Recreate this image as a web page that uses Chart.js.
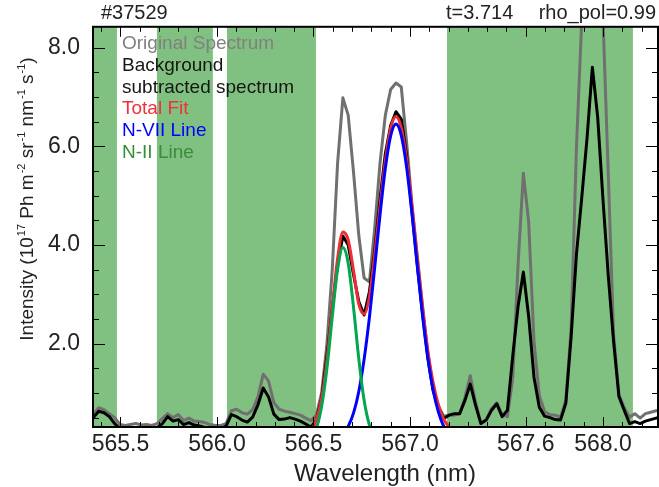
<!DOCTYPE html>
<html>
<head>
<meta charset="utf-8">
<script src="https://cdn.jsdelivr.net/npm/chart.js@4.4.1/dist/chart.umd.min.js"></script>
<style>
  html, body { margin: 0; padding: 0; background: #fff; }
  canvas { display: block; }
</style>
</head>
<body>
<canvas id="spectrum" width="659" height="487"></canvas>
<script>
// measured spectrum, shot #37529
var wavelength = [
  565.3600, 565.3875, 565.4150, 565.4425, 565.4700, 565.4975, 565.5250, 565.5525, 565.5800, 565.6075,
  565.6350, 565.6625, 565.6900, 565.7175, 565.7450, 565.7725, 565.8000, 565.8275, 565.8550, 565.8825,
  565.9100, 565.9375, 565.9650, 565.9925, 566.0200, 566.0475, 566.0750, 566.1025, 566.1300, 566.1575,
  566.1850, 566.2125, 566.2400, 566.2675, 566.2950, 566.3225, 566.3500, 566.3775, 566.4050, 566.4325,
  566.4600, 566.4875, 566.5150, 566.5425, 566.5700, 566.5975, 566.6250, 566.6525, 566.6800, 566.7075,
  566.7350, 566.7625, 566.7900, 566.8175, 566.8450, 566.8725, 566.9000, 566.9275, 566.9550, 566.9825,
  567.0100, 567.0375, 567.0650, 567.0925, 567.1200, 567.1475, 567.1750, 567.2025, 567.2300, 567.2575,
  567.2850, 567.3125, 567.3400, 567.3675, 567.3950, 567.4225, 567.4500, 567.4775, 567.5050, 567.5325,
  567.5600, 567.5875, 567.6150, 567.6425, 567.6700, 567.6975, 567.7250, 567.7525, 567.7800, 567.8075,
  567.8350, 567.8625, 567.8900, 567.9175, 567.9450, 567.9725, 568.0000, 568.0275, 568.0550, 568.0825,
  568.1100, 568.1375, 568.1650, 568.1925, 568.2200, 568.2475, 568.2750, 568.3025
];

var original = [
  0.57, 0.70, 0.66, 0.58, 0.50, 0.36, 0.34, 0.36, 0.38, 0.35,
  0.36, 0.34, 0.38, 0.48, 0.58, 0.50, 0.56, 0.44, 0.49, 0.43,
  0.42, 0.40, 0.36, 0.34, 0.34, 0.38, 0.64, 0.67, 0.60, 0.57,
  0.66, 0.92, 1.38, 1.24, 0.80, 0.67, 0.63, 0.61, 0.58, 0.55,
  0.49, 0.44, 0.55, 1.00, 2.00, 3.50, 5.65, 6.98, 6.63, 5.48,
  4.19, 3.33, 3.25, 4.34, 5.66, 6.63, 7.15, 7.28, 7.20, 6.09,
  4.84, 3.80, 2.78, 1.80, 1.10, 0.73, 0.53, 0.55, 0.55, 0.58,
  0.91, 1.35, 0.81, 0.38, 0.46, 0.68, 0.80, 0.56, 0.52, 1.30,
  3.60, 5.45, 4.47, 2.05, 0.95, 0.62, 0.56, 0.55, 0.51, 0.85,
  2.32, 5.97, 8.55, 9.40, 9.70, 9.50, 8.60, 5.42, 2.18, 0.97,
  0.70, 0.51, 0.58, 0.49, 0.58, 0.61, 0.64, 0.65
];

var subtracted = [
  0.50, 0.63, 0.60, 0.52, 0.38, 0.28, 0.27, 0.29, 0.28, 0.26,
  0.28, 0.27, 0.29, 0.38, 0.52, 0.43, 0.46, 0.36, 0.40, 0.35,
  0.33, 0.30, 0.28, 0.26, 0.27, 0.33, 0.56, 0.52, 0.45, 0.41,
  0.51, 0.76, 1.10, 0.92, 0.57, 0.46, 0.47, 0.50, 0.47, 0.43,
  0.37, 0.31, 0.45, 0.90, 1.75, 2.70, 3.60, 4.18, 4.00, 3.40,
  2.85, 2.58, 3.05, 3.90, 4.95, 5.85, 6.42, 6.70, 6.55, 5.82,
  4.70, 3.62, 2.62, 1.72, 1.05, 0.70, 0.48, 0.55, 0.58, 0.58,
  0.85, 1.18, 0.75, 0.38, 0.45, 0.65, 0.78, 0.52, 0.65, 1.75,
  2.75, 3.45, 2.55, 1.32, 0.71, 0.53, 0.50, 0.46, 0.45, 0.79,
  2.14, 3.81, 4.96, 6.17, 7.60, 6.59, 4.92, 3.37, 2.04, 0.93,
  0.65, 0.38, 0.42, 0.38, 0.43, 0.46, 0.49, 0.49
];

// fitted lines, only evaluated around the N-II / N-VII pair
var fitWavelength = [
  566.4600, 566.4875, 566.5150, 566.5425, 566.5700, 566.5975, 566.6250, 566.6525, 566.6800, 566.7075,
  566.7350, 566.7625, 566.7900, 566.8175, 566.8450, 566.8725, 566.9000, 566.9275, 566.9550, 566.9825,
  567.0100, 567.0375, 567.0650, 567.0925, 567.1200, 567.1475, 567.1750, 567.2025, 567.2300
];
var totalFit = [
  0.17, 0.24, 0.45, 0.89, 1.66, 2.72, 3.72, 4.26, 4.10, 3.48,
  2.80, 2.60, 2.95, 3.81, 4.79, 5.70, 6.36, 6.60, 6.37, 5.73,
  4.80, 3.74, 2.73, 1.86, 1.21, 0.76, 0.47, 0.31, 0.22
];
var nviiLine = [
  0.00, 0.00, 0.00, 0.00, 0.01, 0.03, 0.07, 0.16, 0.32, 0.59,
  1.03, 1.68, 2.53, 3.55, 4.61, 5.55, 6.21, 6.45, 6.22, 5.58,
  4.65, 3.59, 2.58, 1.71, 1.06, 0.61, 0.32, 0.16, 0.07
];
var niiLine = [
  0.02, 0.09, 0.28, 0.73, 1.50, 2.54, 3.50, 3.95, 3.63, 2.74,
  1.69, 0.85, 0.35, 0.11, 0.03, 0.01, 0.00, 0.00, 0.00, 0.00,
  0.00, 0.00, 0.00, 0.00, 0.00, 0.00, 0.00, 0.00, 0.00
];

// wavelength windows used for the background fit (shaded)
var backgroundRegions = [
  [565.358, 565.482],
  [565.689, 565.979],
  [566.052, 566.513],
  [567.192, 568.155]
];

var xTicks = [565.5, 566.0, 566.5, 567.0, 567.6, 568.0];
var xTickLabels = ['565.5', '566.0', '566.5', '567.0', '567.6', '568.0'];
var yTicks = [2, 4, 6, 8];
var yTickLabels = ['2.0', '4.0', '6.0', '8.0'];

var legendLabels = ['Original Spectrum', 'Background', 'subtracted spectrum', 'Total Fit', 'N-VII Line', 'N-II Line'];
var shotLabel = '#37529';
var timeLabel = 't=3.714';
var rhoLabel = 'rho_pol=0.99';

var FONT = "'Liberation Sans', Arial, Helvetica, sans-serif";

function pairs(xs, ys) {
  return xs.map(function (x, i) { return { x: x, y: ys[i] }; });
}

var regionsPlugin = {
  id: 'regions',
  beforeDatasetsDraw: function (chart) {
    var ctx = chart.ctx, a = chart.chartArea, xs = chart.scales.x;
    ctx.save();
    ctx.fillStyle = '#80c080';
    backgroundRegions.forEach(function (r) {
      var x0 = Math.max(xs.getPixelForValue(r[0]), a.left);
      var x1 = Math.min(xs.getPixelForValue(r[1]), a.right);
      ctx.fillRect(x0, a.top, x1 - x0, a.bottom - a.top);
    });
    ctx.restore();
  }
};

// box round the plot with inward ticks on all four sides
var framePlugin = {
  id: 'frame',
  afterDatasetsDraw: function (chart) {
    var ctx = chart.ctx, a = chart.chartArea, xs = chart.scales.x, ys = chart.scales.y;
    ctx.save();
    ctx.strokeStyle = '#000';
    ctx.lineWidth = 1;
    ctx.beginPath();
    for (var k = 5654; k <= 5682; k++) {
      var v = k / 10;
      var px = Math.round(xs.getPixelForValue(v)) + 0.5;
      if (px <= a.left || px >= a.right) continue;
      var major = xTicks.some(function (t) { return Math.abs(t - v) < 1e-6; });
      var len = major ? 10 : 5;
      ctx.moveTo(px, a.bottom); ctx.lineTo(px, a.bottom - len);
      ctx.moveTo(px, a.top); ctx.lineTo(px, a.top + len);
    }
    for (var j = 1; j <= 16; j++) {
      var py = Math.round(ys.getPixelForValue(j / 2)) + 0.5;
      if (py <= a.top || py >= a.bottom) continue;
      var ylen = j % 4 === 0 ? 12 : 6;
      ctx.moveTo(a.left, py); ctx.lineTo(a.left + ylen, py);
      ctx.moveTo(a.right, py); ctx.lineTo(a.right - ylen, py);
    }
    ctx.stroke();
    ctx.lineWidth = 2;
    ctx.strokeRect(a.left, a.top, a.right - a.left, a.bottom - a.top);
    ctx.restore();
  }
};

var textPlugin = {
  id: 'texts',
  afterDraw: function (chart) {
    var ctx = chart.ctx;
    ctx.save();

    // header line
    ctx.fillStyle = '#222';
    ctx.font = '20px ' + FONT;
    ctx.textBaseline = 'middle';
    ctx.textAlign = 'left';
    ctx.fillText(shotLabel, 101, 13);
    ctx.fillText(timeLabel, 446, 13);
    ctx.textAlign = 'right';
    ctx.fillText(rhoLabel, 656, 13);

    // legend
    var colors = ['#808080', '#161616', '#161616', '#f0303a', '#0000ff', '#3a8c3a'];
    ctx.font = '19px ' + FONT;
    ctx.textAlign = 'left';
    ctx.textBaseline = 'alphabetic';
    legendLabels.forEach(function (t, i) {
      ctx.fillStyle = colors[i];
      ctx.fillText(t, 122, 49 + i * 21.8);
    });

    // x axis title
    ctx.fillStyle = '#222';
    ctx.font = '24px ' + FONT;
    ctx.textAlign = 'center';
    ctx.textBaseline = 'middle';
    ctx.fillText('Wavelength (nm)', 385, 474);

    // y axis title with superscripts
    var parts = [['Intensity (10', 0], ['17', 1], [' Ph m', 0], ['-2', 1], [' sr', 0], ['-1', 1],
                 [' nm', 0], ['-1', 1], [' s', 0], ['-1', 1], [')', 0]];
    var mainFont = '19px ' + FONT, supFont = '11px ' + FONT;
    var total = 0;
    parts.forEach(function (p) {
      ctx.font = p[1] ? supFont : mainFont;
      total += ctx.measureText(p[0]).width + (p[1] ? 1 : 0);
    });
    ctx.translate(26, 199);
    ctx.rotate(-Math.PI / 2);
    ctx.textAlign = 'left';
    ctx.textBaseline = 'alphabetic';
    var cx = -total / 2;
    parts.forEach(function (p) {
      ctx.font = p[1] ? supFont : mainFont;
      ctx.fillText(p[0], cx + (p[1] ? 1 : 0), p[1] ? -1 : 7);
      cx += ctx.measureText(p[0]).width + (p[1] ? 1 : 0);
    });
    ctx.restore();
  }
};

function lineSet(label, xs, ys, color, order, smooth) {
  return {
    label: label,
    data: pairs(xs, ys),
    borderColor: color,
    borderWidth: 3,
    pointRadius: 0,
    fill: false,
    tension: 0,
    cubicInterpolationMode: smooth ? 'monotone' : 'default',
    borderJoinStyle: 'round',
    order: order,
    clip: 0
  };
}

var ctx = document.getElementById('spectrum').getContext('2d');
var chart = new Chart(ctx, {
  type: 'line',
  data: {
    datasets: [
      lineSet('N-II Line', fitWavelength, niiLine, '#00a650', 1, true),
      lineSet('N-VII Line', fitWavelength, nviiLine, '#0000ff', 2, true),
      lineSet('Total Fit', fitWavelength, totalFit, '#ef2b34', 3, true),
      lineSet('Background subtracted spectrum', wavelength, subtracted, '#000000', 4, false),
      lineSet('Original Spectrum', wavelength, original, '#707070', 5, false)
    ]
  },
  options: {
    responsive: false,
    animation: false,
    devicePixelRatio: 1,
    layout: { padding: { left: 0, right: 1, top: 24, bottom: 0 } },
    plugins: {
      legend: { display: false },
      tooltip: { enabled: false }
    },
    scales: {
      x: {
        type: 'linear',
        min: 565.358,
        max: 568.285,
        grid: { display: false, drawTicks: false },
        border: { display: false },
        afterBuildTicks: function (axis) {
          axis.ticks = xTicks.map(function (v) { return { value: v }; });
        },
        afterFit: function (axis) { axis.height = 60; },
        ticks: {
          autoSkip: false,
          maxRotation: 0,
          padding: 4,
          color: '#222',
          font: { family: FONT, size: 23 },
          callback: function (value, index) { return xTickLabels[index]; }
        }
      },
      y: {
        type: 'linear',
        min: 0.31,
        max: 8.42,
        grid: { display: false, drawTicks: false },
        border: { display: false },
        afterBuildTicks: function (axis) {
          axis.ticks = yTicks.map(function (v) { return { value: v }; });
        },
        afterFit: function (axis) { axis.width = 93; },
        ticks: {
          padding: 13,
          color: '#222',
          font: { family: FONT, size: 23 },
          callback: function (value, index) { return yTickLabels[index]; }
        }
      }
    }
  },
  plugins: [regionsPlugin, framePlugin, textPlugin]
});
</script>
</body>
</html>
